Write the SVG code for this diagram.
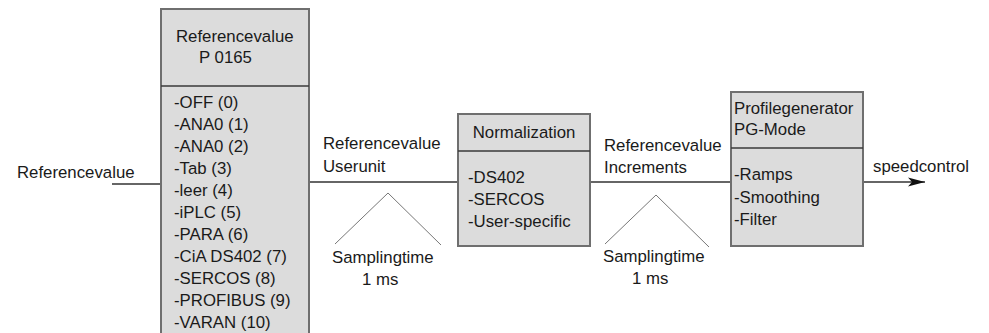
<svg xmlns="http://www.w3.org/2000/svg" width="989" height="333" viewBox="0 0 989 333">
<defs>
<style>
text{font-family:"Liberation Sans",Arial,sans-serif;font-size:16.8px;fill:#1a1a1a}
.box{fill:#dcdcdc;stroke:#6f6f6f;stroke-width:2}
.div{stroke:#3a3a3a;stroke-width:1.6}
.conn{stroke:#333;stroke-width:1.3;fill:none}
.tri{stroke:#777;stroke-width:1;fill:none}
</style>
<marker id="arr" markerWidth="18" markerHeight="12" refX="17" refY="6" orient="auto" markerUnits="userSpaceOnUse">
<path d="M0,1.5 L17,6 L0,10.5 L4,6 Z" fill="#111"/>
</marker>
</defs>
<rect width="989" height="333" fill="#fff"/>
<g id="connectors">
<line class="conn" x1="112" y1="184" x2="161" y2="184"/>
<line class="conn" x1="309" y1="182" x2="458" y2="182"/>
<line class="conn" x1="590" y1="182" x2="731" y2="182"/>
<line class="conn" x1="863" y1="182" x2="925" y2="182" marker-end="url(#arr)"/>
<polyline class="tri" points="335,244 388,193 441,245"/>
<polyline class="tri" points="605,244 656,195 709,247"/>
</g>
<g id="labels">
<text x="17" y="178">Referencevalue</text>
<text x="323" y="149">Referencevalue</text>
<text x="323" y="172">Userunit</text>
<text x="332" y="263">Samplingtime</text>
<text x="362" y="285">1 ms</text>
<text x="604" y="151">Referencevalue</text>
<text x="604" y="173">Increments</text>
<text x="603" y="262">Samplingtime</text>
<text x="632" y="284">1 ms</text>
<text x="873" y="172">speedcontrol</text>
</g>
<g id="referencevalue">
<rect class="box" x="161" y="9" width="148" height="340"/>
<line class="div" x1="161" y1="86" x2="309" y2="86"/>
<text x="176" y="42">Referencevalue</text>
<text x="199" y="63">P 0165</text>
<text x="174" y="108">-OFF (0)</text>
<text x="174" y="130">-ANA0 (1)</text>
<text x="174" y="152">-ANA0 (2)</text>
<text x="174" y="174">-Tab (3)</text>
<text x="174" y="196">-leer (4)</text>
<text x="174" y="218">-iPLC (5)</text>
<text x="174" y="240">-PARA (6)</text>
<text x="174" y="262">-CiA DS402 (7)</text>
<text x="174" y="284">-SERCOS (8)</text>
<text x="174" y="306">-PROFIBUS (9)</text>
<text x="174" y="328">-VARAN (10)</text>
</g>
<g id="normalization">
<rect class="box" x="458" y="114" width="132" height="132"/>
<line class="div" x1="458" y1="151" x2="590" y2="151"/>
<text x="524" y="138" text-anchor="middle">Normalization</text>
<text x="468" y="183">-DS402</text>
<text x="468" y="205">-SERCOS</text>
<text x="468" y="227">-User-specific</text>
</g>
<g id="profilegenerator">
<rect class="box" x="731" y="92" width="132" height="154"/>
<line class="div" x1="731" y1="148" x2="863" y2="148"/>
<text x="734" y="114">Profilegenerator</text>
<text x="734" y="135">PG-Mode</text>
<text x="734" y="180">-Ramps</text>
<text x="734" y="203">-Smoothing</text>
<text x="734" y="225">-Filter</text>
</g>
</svg>
